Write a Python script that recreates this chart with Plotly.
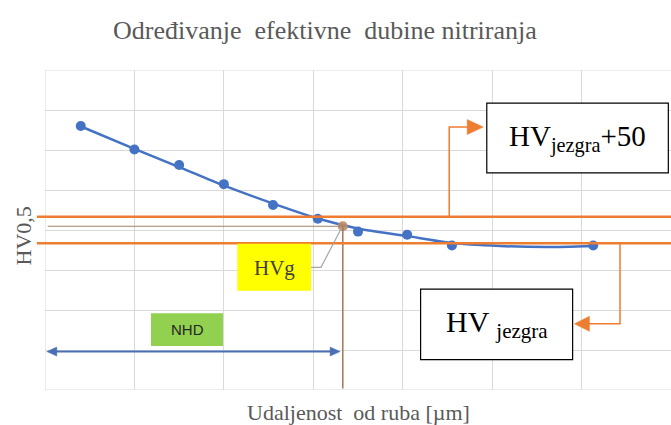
import plotly.graph_objects as go

# Measured hardness points (distance from edge in µm, hardness HV0,5)
depth_um = [40, 100, 150, 200, 255, 305, 350, 405, 455, 613]
hardness = [495, 451, 422, 386, 347, 321, 297, 291, 271, 271]

# Fitted trend curve through the measurements
trend_x = [39, 100, 150, 199, 256, 306, 352, 404, 453, 509, 562, 613]
trend_y = [495, 452, 418, 384, 349, 321, 302, 289, 276, 270, 268, 270]

# Reference levels
hv_core = 275            # HV jezgra
hv_core_plus = hv_core + 50
hv_g = 307               # limit hardness HVg
nhd_um = 333             # effective nitriding depth

BLUE = "#4472C4"
ORANGE = "#ED7D31"
BROWN = "#A0785A"
GRID = "#D9D9D9"
SERIF = "Liberation Serif"

# axis scale: units per pixel, used to size arrowheads in data units
UX = 700 / 626
UY = 600 / 320

fig = go.Figure()

fig.add_trace(go.Scatter(
    x=trend_x, y=trend_y, mode="lines",
    line=dict(color=BLUE, width=2.5, shape="spline", smoothing=0.6),
    hoverinfo="skip", showlegend=False,
))
fig.add_trace(go.Scatter(
    x=depth_um, y=hardness, mode="markers",
    marker=dict(color=BLUE, size=10),
    hoverinfo="skip", showlegend=False,
))

# plot frame (left, top, bottom)
for x0, x1, y0, y1 in ((0, 0, 0, 600), (0, 700, 600, 600), (0, 700, 0, 0)):
    fig.add_shape(type="line", xref="x", yref="y", x0=x0, x1=x1, y0=y0, y1=y1,
                  line=dict(color=GRID, width=1), layer="below")

# HVg guide lines (horizontal to the curve, then down to the axis)
fig.add_shape(type="line", xref="x", yref="y", x0=3, x1=nhd_um, y0=hv_g, y1=hv_g,
              line=dict(color="#9C8466", width=1.2))
fig.add_shape(type="line", xref="x", yref="y", x0=nhd_um, x1=nhd_um, y0=hv_g, y1=3,
              line=dict(color=BROWN, width=1.5))

fig.add_trace(go.Scatter(
    x=[nhd_um], y=[hv_g], mode="markers",
    marker=dict(color="#C08A64", size=10, opacity=0.9),
    hoverinfo="skip", showlegend=False,
))

# core hardness and core + 50 lines
for lvl in (hv_core_plus, hv_core):
    fig.add_shape(type="line", xref="paper", yref="y", x0=-0.013, x1=1, y0=lvl, y1=lvl,
                  line=dict(color=ORANGE, width=2.5))


def arrowhead(tip_x, tip_y, direction, length_px, half_px, color):
    """Filled triangular arrowhead pointing left (-1) or right (+1)."""
    bx = tip_x - direction * length_px * UX
    dy = half_px * UY
    fig.add_shape(type="path", xref="x", yref="y",
                  path=f"M {tip_x} {tip_y} L {bx} {tip_y + dy} L {bx} {tip_y - dy} Z",
                  fillcolor=color, line=dict(color=color, width=0.5))


# callout for HV jezgra + 50
fig.add_shape(type="path", xref="x", yref="y",
              path=f"M 452 {hv_core_plus} L 452 493 L 475 493",
              line=dict(color=ORANGE, width=1.5))
arrowhead(490, 493, 1, 16, 7.5, ORANGE)
fig.add_shape(type="rect", xref="x", yref="y", x0=494, x1=697, y0=407, y1=538,
              line=dict(color="black", width=1.2), fillcolor="white")
fig.add_annotation(x=595, y=472, xref="x", yref="y", showarrow=False,
                   text="HV<sub>jezgra</sub>+50",
                   font=dict(family=SERIF, size=29, color="black"))

# callout for HV jezgra
fig.add_shape(type="path", xref="x", yref="y",
              path=f"M 643 {hv_core} L 643 124 L 608 124",
              line=dict(color=ORANGE, width=1.5))
arrowhead(592, 124, -1, 15, 7.5, ORANGE)
fig.add_shape(type="rect", xref="x", yref="y", x0=420, x1=590, y0=57, y1=189,
              line=dict(color="black", width=1.2), fillcolor="white")
fig.add_annotation(x=505, y=123, xref="x", yref="y", showarrow=False,
                   text="HV <sub>jezgra</sub>",
                   font=dict(family=SERIF, size=30, color="black"))

# HVg label with leader line
fig.add_shape(type="path", xref="x", yref="y",
              path=f"M 297.5 230 L 308.6 230 L {nhd_um - 1} {hv_g - 2}",
              line=dict(color="#A6A6A6", width=1.2))
fig.add_shape(type="rect", xref="x", yref="y", x0=215, x1=297.5, y0=186, y1=274,
              line=dict(width=0), fillcolor="#FFFF00")
fig.add_annotation(x=257, y=228, xref="x", yref="y", showarrow=False, text="HVg",
                   font=dict(family=SERIF, size=21, color="#404040"))

# NHD label and double arrow
fig.add_shape(type="rect", xref="x", yref="y", x0=118.5, x1=199, y0=82.5, y1=144,
              line=dict(width=0), fillcolor="#92D050")
fig.add_annotation(x=159, y=113, xref="x", yref="y", showarrow=False, text="NHD",
                   font=dict(family="Liberation Sans", size=15, color="#262626"))
fig.add_shape(type="line", xref="x", yref="y", x0=8, x1=nhd_um - 8, y0=72, y1=72,
              line=dict(color="#4A6FB5", width=2))
arrowhead(2, 72, -1, 10, 4.5, "#4A6FB5")
arrowhead(nhd_um - 3, 72, 1, 10, 4.5, "#4A6FB5")

# titles
fig.add_annotation(x=0.447, y=1.125, xref="paper", yref="paper", showarrow=False,
                   xanchor="center", yanchor="middle",
                   text="Određivanje  efektivne  dubine nitriranja",
                   font=dict(family=SERIF, size=26, color="#595959"))
fig.add_annotation(x=-0.035, y=0.48, xref="paper", yref="paper", showarrow=False,
                   xanchor="center", yanchor="middle",
                   text="HV0,5", textangle=-90,
                   font=dict(family=SERIF, size=22, color="#595959"))
fig.add_annotation(x=0.5, y=-0.07, xref="paper", yref="paper", showarrow=False,
                   xanchor="center", yanchor="middle",
                   text="Udaljenost  od ruba [µm]",
                   font=dict(family=SERIF, size=22, color="#595959"))

fig.update_xaxes(range=[0, 700], dtick=100, showgrid=True, gridcolor=GRID, gridwidth=1,
                 showticklabels=False, zeroline=False, showline=False, ticks="")
fig.update_yaxes(range=[0, 600], dtick=75, showgrid=True, gridcolor=GRID, gridwidth=1,
                 showticklabels=False, zeroline=False, showline=False, ticks="")

fig.update_layout(
    width=671, height=425,
    margin=dict(l=45, r=0, t=70, b=35),
    paper_bgcolor="white", plot_bgcolor="white",
)

fig.write_html("out.html")
